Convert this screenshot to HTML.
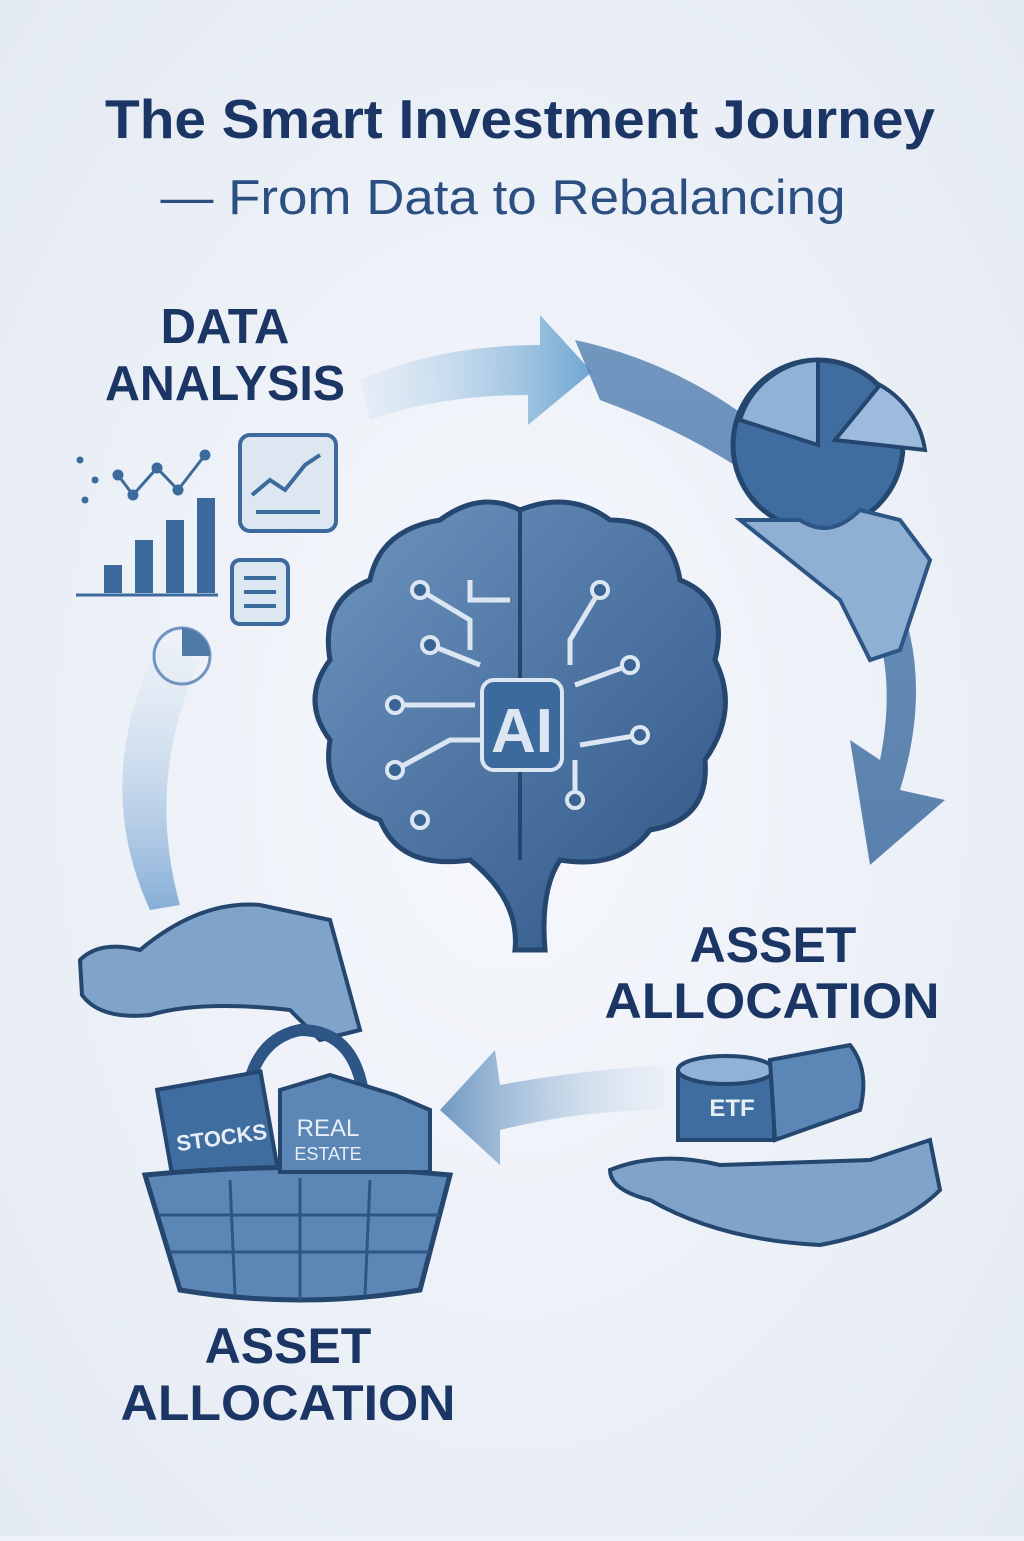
<!DOCTYPE html>
<html><head><meta charset="utf-8"><style>
html,body{margin:0;padding:0}
body{width:1024px;height:1536px;overflow:hidden;background:#eef2f8;font-family:"Liberation Sans",sans-serif}
</style></head><body>
<svg width="1024" height="1536" viewBox="0 0 1024 1536" xmlns="http://www.w3.org/2000/svg">
<defs>
<radialGradient id="bg" cx="50%" cy="50%" r="70%"><stop offset="0" stop-color="#f6f8fc"/><stop offset="1" stop-color="#e4eaf3"/></radialGradient>
<linearGradient id="brain" x1="0" y1="0" x2="1" y2="1"><stop offset="0" stop-color="#6f95c0"/><stop offset="1" stop-color="#2d5585"/></linearGradient>
<linearGradient id="a1" x1="0" x2="1"><stop offset="0" stop-color="#cfe0f0" stop-opacity="0.3"/><stop offset="1" stop-color="#6ea6d2"/></linearGradient>
<linearGradient id="a2" x1="0" y1="0" x2="0" y2="1"><stop offset="0" stop-color="#5b86b5"/><stop offset="1" stop-color="#3f6d9f"/></linearGradient>
<linearGradient id="a3" x1="1" x2="0"><stop offset="0" stop-color="#dde8f3" stop-opacity="0.3"/><stop offset="1" stop-color="#6f98c3"/></linearGradient>
<linearGradient id="a4" x1="0" y1="1" x2="0" y2="0"><stop offset="0" stop-color="#86aed6"/><stop offset="1" stop-color="#e6eef7" stop-opacity="0.3"/></linearGradient>
</defs>
<rect width="1024" height="1536" fill="url(#bg)"/>
<text x="520" y="138" text-anchor="middle" font-size="55" font-weight="bold" fill="#1b3564" textLength="830" lengthAdjust="spacingAndGlyphs">The Smart Investment Journey</text>
<text x="503" y="214" text-anchor="middle" font-size="49" fill="#2b4f80" textLength="685" lengthAdjust="spacingAndGlyphs">— From Data to Rebalancing</text>

<path d="M360 380 Q440 345 540 345 L540 315 L592 372 L528 425 L528 395 Q440 395 370 420 Z" fill="url(#a1)"/>
<path d="M575 340 Q760 380 880 560 Q940 660 900 790 L945 800 L870 865 L850 740 L880 760 Q900 660 860 590 Q790 470 600 400 Z" fill="url(#a2)" opacity="0.85"/>
<path d="M665 1065 Q580 1070 500 1085 L495 1050 L440 1110 L500 1165 L500 1130 Q580 1110 665 1110 Z" fill="url(#a3)"/>
<path d="M150 910 Q90 780 160 640 L200 660 Q145 780 180 905 Z" fill="url(#a4)"/>

<g fill="#3d6a9c" stroke="#3d6a9c">
<rect x="104" y="565" width="18" height="28" stroke="none"/>
<rect x="135" y="540" width="18" height="53" stroke="none"/>
<rect x="166" y="520" width="18" height="73" stroke="none"/>
<rect x="197" y="498" width="18" height="95" stroke="none"/>
<line x1="76" y1="595" x2="218" y2="595" stroke-width="3"/>
<polyline points="118,475 133,495 157,468 178,490 205,455" fill="none" stroke-width="3"/>
<circle cx="118" cy="475" r="5"/><circle cx="133" cy="495" r="5"/><circle cx="157" cy="468" r="5"/><circle cx="178" cy="490" r="5"/><circle cx="205" cy="455" r="5"/>
<circle cx="80" cy="460" r="3"/><circle cx="95" cy="480" r="3"/><circle cx="85" cy="500" r="3"/>
</g>
<rect x="240" y="435" width="96" height="96" rx="10" fill="#dde7f2" stroke="#3d6a9c" stroke-width="4"/>
<polyline points="252,495 270,480 285,490 305,465 320,455" fill="none" stroke="#3d6a9c" stroke-width="4"/>
<line x1="256" y1="512" x2="320" y2="512" stroke="#3d6a9c" stroke-width="4"/>
<rect x="232" y="560" width="56" height="64" rx="8" fill="#dde7f2" stroke="#3d6a9c" stroke-width="4"/>
<g stroke="#3d6a9c" stroke-width="4"><line x1="244" y1="578" x2="276" y2="578"/><line x1="244" y1="592" x2="276" y2="592"/><line x1="244" y1="606" x2="276" y2="606"/></g>
<circle cx="182" cy="656" r="28" fill="none" stroke="#6f95c0" stroke-width="3"/>
<path d="M182 656 L182 628 A28 28 0 0 1 210 656 Z" fill="#4f7aa8"/>

<path d="M515 950 Q520 900 470 860 Q400 870 380 820 Q320 800 330 740 Q300 700 330 660 Q320 600 370 580 Q380 530 440 520 Q480 490 520 510 Q570 490 610 520 Q670 520 680 580 Q730 600 715 660 Q740 710 705 760 Q710 820 650 830 Q620 870 560 860 Q540 890 545 950 Z" fill="url(#brain)" stroke="#24466f" stroke-width="5"/>
<path d="M520 510 L520 700 M520 760 L520 860" stroke="#24466f" stroke-width="4" fill="none"/>
<g stroke="#dbe6f2" stroke-width="5" fill="none">
<path d="M420 590 L470 620 L470 650"/><path d="M430 645 L480 665"/><path d="M395 705 L475 705"/><path d="M395 770 L450 740 L480 740"/>
<path d="M600 590 L570 640 L570 665"/><path d="M630 665 L575 685"/><path d="M640 735 L580 745"/><path d="M575 800 L575 760"/><path d="M470 580 L470 600 L510 600"/>
</g>
<g fill="#3a6494" stroke="#dbe6f2" stroke-width="4">
<circle cx="420" cy="590" r="8"/><circle cx="430" cy="645" r="8"/><circle cx="395" cy="705" r="8"/><circle cx="395" cy="770" r="8"/>
<circle cx="600" cy="590" r="8"/><circle cx="630" cy="665" r="8"/><circle cx="640" cy="735" r="8"/><circle cx="575" cy="800" r="8"/><circle cx="420" cy="820" r="8"/>
</g>
<rect x="482" y="680" width="80" height="90" rx="12" fill="#3d6a9c" stroke="#dbe6f2" stroke-width="4"/>
<text x="522" y="752" text-anchor="middle" font-size="62" font-weight="bold" fill="#dbe6f2">AI</text>

<circle cx="818" cy="445" r="85" fill="#3f6d9f" stroke="#24466f" stroke-width="5"/>
<path d="M818 445 L740 420 A85 85 0 0 1 818 360 Z" fill="#8fb2d6" stroke="#24466f" stroke-width="4"/>
<path d="M835 440 L880 385 A90 90 0 0 1 925 450 Z" fill="#9dbcdd" stroke="#24466f" stroke-width="4"/>
<path d="M740 520 Q790 560 840 600 L870 660 L900 650 L930 560 L900 520 L860 510 Q830 540 800 520 Z" fill="#8fb0d2" stroke="#2d5585" stroke-width="4"/>

<text x="773" y="962" text-anchor="middle" font-size="50" font-weight="bold" fill="#1b3564">ASSET</text>
<text x="772" y="1018" text-anchor="middle" font-size="50" font-weight="bold" fill="#1b3564" textLength="335" lengthAdjust="spacingAndGlyphs">ALLOCATION</text>

<path d="M610 1170 Q660 1150 720 1165 L870 1160 L930 1140 L940 1190 Q900 1230 820 1245 Q720 1240 650 1200 Q610 1190 610 1170 Z" fill="#7fa3ca" stroke="#24466f" stroke-width="4"/>
<rect x="678" y="1070" width="96" height="70" fill="#3f6d9f" stroke="#24466f" stroke-width="4"/>
<ellipse cx="726" cy="1070" rx="48" ry="14" fill="#8fb2d6" stroke="#24466f" stroke-width="4"/>
<text x="732" y="1116" text-anchor="middle" font-size="24" font-weight="bold" fill="#e8eef6">ETF</text>
<path d="M770 1060 L850 1045 Q870 1070 860 1110 L775 1140 Z" fill="#5b86b5" stroke="#24466f" stroke-width="4"/>

<path d="M80 960 Q100 940 140 950 Q200 900 260 905 L330 920 L360 1030 L320 1040 L290 1010 Q200 1000 150 1015 Q100 1020 82 995 Z" fill="#7fa3ca" stroke="#24466f" stroke-width="4"/>
<path d="M245 1110 Q250 1040 300 1030 Q360 1030 365 1110" fill="none" stroke="#2d5585" stroke-width="12"/>
<rect x="165" y="1080" width="105" height="100" fill="#3f6d9f" stroke="#24466f" stroke-width="4" transform="rotate(-10 217 1130)"/>
<text x="222" y="1145" text-anchor="middle" font-size="22" font-weight="bold" fill="#e8eef6" transform="rotate(-8 222 1140)">STOCKS</text>
<path d="M145 1175 Q300 1160 450 1175 L420 1290 Q300 1310 180 1290 Z" fill="#5b86b5" stroke="#24466f" stroke-width="5"/>
<g stroke="#2d5585" stroke-width="3"><line x1="160" y1="1215" x2="440" y2="1215"/><line x1="170" y1="1252" x2="430" y2="1252"/><line x1="230" y1="1180" x2="235" y2="1295"/><line x1="300" y1="1178" x2="300" y2="1300"/><line x1="370" y1="1180" x2="365" y2="1295"/></g>
<path d="M280 1090 L330 1075 L395 1095 L430 1110 L430 1172 L280 1172 Z" fill="#5b86b5" stroke="#24466f" stroke-width="4"/>
<text x="328" y="1136" text-anchor="middle" font-size="24" fill="#e8eef6">REAL</text>
<text x="328" y="1160" text-anchor="middle" font-size="18" fill="#e8eef6">ESTATE</text>

<text x="288" y="1363" text-anchor="middle" font-size="50" font-weight="bold" fill="#1b3564">ASSET</text>
<text x="288" y="1420" text-anchor="middle" font-size="50" font-weight="bold" fill="#1b3564" textLength="335" lengthAdjust="spacingAndGlyphs">ALLOCATION</text>
<text x="225" y="343" text-anchor="middle" font-size="49" font-weight="bold" fill="#1b3564">DATA</text>
<text x="225" y="400" text-anchor="middle" font-size="49" font-weight="bold" fill="#1b3564" textLength="240" lengthAdjust="spacingAndGlyphs">ANALYSIS</text>
</svg>
</body></html>
